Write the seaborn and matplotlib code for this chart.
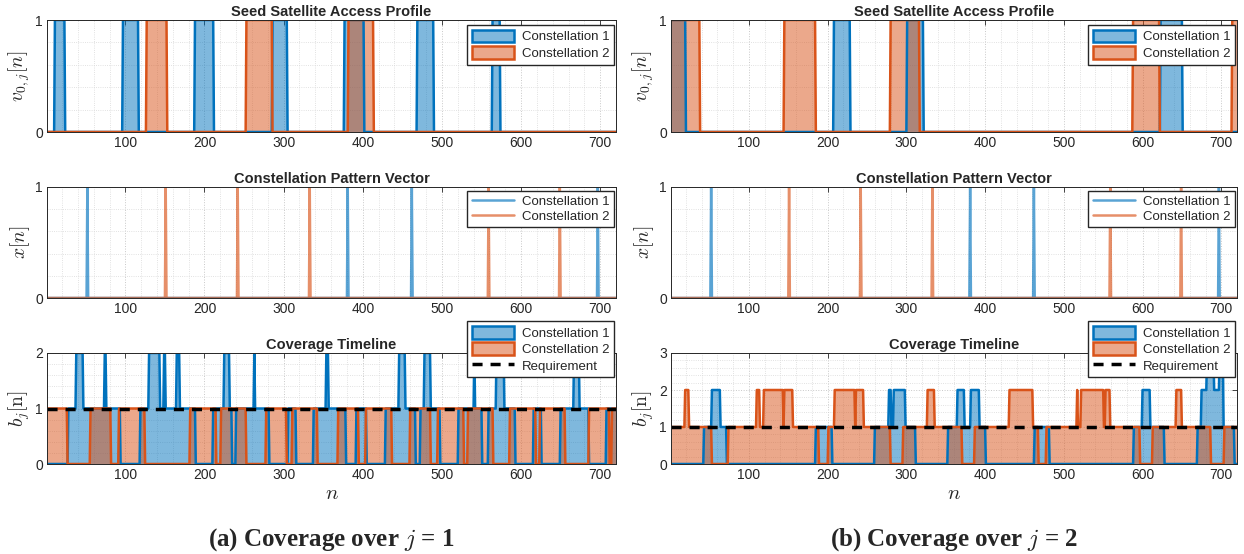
import numpy as np
import pandas as pd
import matplotlib
matplotlib.use("Agg")
import matplotlib.pyplot as plt
import seaborn as sns
from matplotlib.patches import Patch
from matplotlib.lines import Line2D
from matplotlib.ticker import MultipleLocator, FixedLocator

# ---------------- data ----------------
N_SAMPLES = 720
x_ticks = [100, 200, 300, 400, 500, 600, 700]

# access windows [first n, last n] of the seed satellite
seed_c1_j1 = [(11, 23), (97, 116), (188, 211), (286, 304), (377, 401), (469, 489), (564, 573)]
seed_c2_j1 = [(127, 152), (253, 285), (382, 413)]
seed_c1_j2 = [(1, 19), (208, 228), (301, 321), (623, 650)]
seed_c2_j2 = [(1, 37), (145, 184), (280, 316), (588, 621), (714, 720)]

# constellation pattern vector: sample indices where x[n] = 1
pattern_c1 = [52, 381, 462, 697]
pattern_c2 = [151, 242, 333, 559, 649]

requirement = 1
series_names = ["Constellation 1", "Constellation 2"]
captions = [r"(a) Coverage over $j$ = 1", r"(b) Coverage over $j$ = 2"]
bottom_ylim = [2, 3]

# ---------------- helpers ----------------
n_axis = np.arange(1, N_SAMPLES + 1)


def access_vector(windows):
    v = np.zeros(N_SAMPLES)
    for a, b in windows:
        v[a - 1:b] = 1
    return v


def pattern_vector(pos):
    x = np.zeros(N_SAMPLES)
    x[np.array(pos) - 1] = 1
    return x


def coverage(v, pos):
    # b_j[n] = circular convolution of the seed access profile with the pattern
    return np.sum([np.roll(v, p) for p in pos], axis=0)


# ---------------- style ----------------
sns.set_theme(style="white")
plt.rcParams["font.family"] = ["Liberation Sans", "DejaVu Sans"]
plt.rcParams["mathtext.fontset"] = "cm"

BLUE = "#0072BD"
ORANGE = "#D95319"
colors = [BLUE, ORANGE]
EDGE_LW = 1.8

fig = plt.figure(figsize=(12.44, 5.54), dpi=100)

col_x = [47 / 1244, 671 / 1244]
col_w = [569 / 1244, 566 / 1244]
row_y = [(554 - 132) / 554, (554 - 298) / 554, (554 - 464) / 554]
row_h = [112 / 554, 111 / 554, 111 / 554]


def style_axis(ax, ymax, yticks):
    ax.set_xlim(1, N_SAMPLES)
    ax.set_ylim(0, ymax)
    ax.xaxis.set_major_locator(FixedLocator(x_ticks))
    ax.xaxis.set_minor_locator(MultipleLocator(20))
    ax.yaxis.set_major_locator(FixedLocator(yticks))
    ax.yaxis.set_minor_locator(MultipleLocator(0.2))
    ax.grid(True, which="major", color="#c8c8c8", lw=0.7, ls=":")
    ax.grid(True, which="minor", color="#d8d8d8", lw=0.6, ls=":")
    ax.set_axisbelow(True)
    ax.tick_params(direction="in", top=True, right=True, length=3.5, width=0.6,
                   labelsize=10, colors="#262626", pad=3)
    ax.tick_params(which="minor", length=0)
    for s in ax.spines.values():
        s.set_color("#262626")
        s.set_linewidth(0.7)
    ax.set_xlabel("")


def leg_props():
    return dict(fontsize=9.5, frameon=True, fancybox=False, framealpha=1,
                edgecolor="#262626", borderaxespad=0, borderpad=0.35,
                labelspacing=0.2, handletextpad=0.6)


seeds = [(seed_c1_j1, seed_c2_j1), (seed_c1_j2, seed_c2_j2)]
patterns = [pattern_c1, pattern_c2]

for c in range(2):
    vs = [access_vector(w) for w in seeds[c]]
    xs = [pattern_vector(p) for p in patterns]
    bs = [coverage(vs[k], patterns[k]) for k in range(2)]

    # ---- top: seed satellite access profile ----
    ax = fig.add_axes([col_x[c], row_y[0], col_w[c], row_h[0]])
    for k in range(2):
        ax.fill_between(n_axis, vs[k], 0, color=colors[k], alpha=0.5, lw=0)
        sns.lineplot(x=n_axis, y=vs[k], ax=ax, color=colors[k], lw=EDGE_LW)
    style_axis(ax, 1, [0, 1])
    ax.set_title("Seed Satellite Access Profile", fontsize=10.5, fontweight="bold", pad=3)
    ax.set_ylabel(r"$v_{0,j}[n]$", fontsize=14, labelpad=2)
    handles = [Patch(facecolor=matplotlib.colors.to_rgba(col, 0.5), edgecolor=col, lw=EDGE_LW)
               for col in colors]
    ax.legend(handles, series_names, loc="upper right", bbox_to_anchor=(0.997, 0.955),
              handlelength=3.2, handleheight=1.1, **leg_props())

    # ---- middle: constellation pattern vector ----
    ax = fig.add_axes([col_x[c], row_y[1], col_w[c], row_h[1]])
    for k in range(2):
        sns.lineplot(x=n_axis, y=xs[k], ax=ax, color=colors[k], lw=1.8, alpha=0.65)
    style_axis(ax, 1, [0, 1])
    ax.set_title("Constellation Pattern Vector", fontsize=10.5, fontweight="bold", pad=3)
    ax.set_ylabel(r"$x[n]$", fontsize=14, labelpad=2)
    handles = [Line2D([], [], color=col, lw=1.8, alpha=0.65) for col in colors]
    ax.legend(handles, series_names, loc="upper right", bbox_to_anchor=(0.997, 0.964),
              handlelength=3.2, **leg_props())

    # ---- bottom: coverage timeline ----
    ax = fig.add_axes([col_x[c], row_y[2], col_w[c], row_h[2]])
    for k in range(2):
        ax.fill_between(n_axis, bs[k], 0, color=colors[k], alpha=0.5, lw=0)
        sns.lineplot(x=n_axis, y=bs[k], ax=ax, color=colors[k], lw=EDGE_LW)
    sns.lineplot(x=n_axis, y=np.full(N_SAMPLES, requirement), ax=ax, color="black",
                 lw=2.5, linestyle=(0, (2.9, 2.3)))
    style_axis(ax, bottom_ylim[c], list(range(bottom_ylim[c] + 1)))
    ax.set_title("Coverage Timeline", fontsize=10.5, fontweight="bold", pad=3)
    ax.set_ylabel(r"$b_j[\mathrm{n}]$", fontsize=14, labelpad=2)
    ax.set_xlabel(r"$n$", fontsize=15, labelpad=1)
    handles = [Patch(facecolor=matplotlib.colors.to_rgba(col, 0.5), edgecolor=col, lw=EDGE_LW)
               for col in colors]
    handles.append(Line2D([], [], color="black", lw=2.5, linestyle=(0, (2.9, 2.3))))
    ax.legend(handles, series_names + ["Requirement"], loc="upper right",
              bbox_to_anchor=(0.997, 1.285), handlelength=3.2, handleheight=1.1,
              **leg_props())

    fig.text(col_x[c] + col_w[c] / 2, 0.026, captions[c], ha="center", va="center",
             fontsize=18, fontweight="bold", family=["Liberation Serif", "DejaVu Serif"])

fig.savefig("out.png", dpi=100)
